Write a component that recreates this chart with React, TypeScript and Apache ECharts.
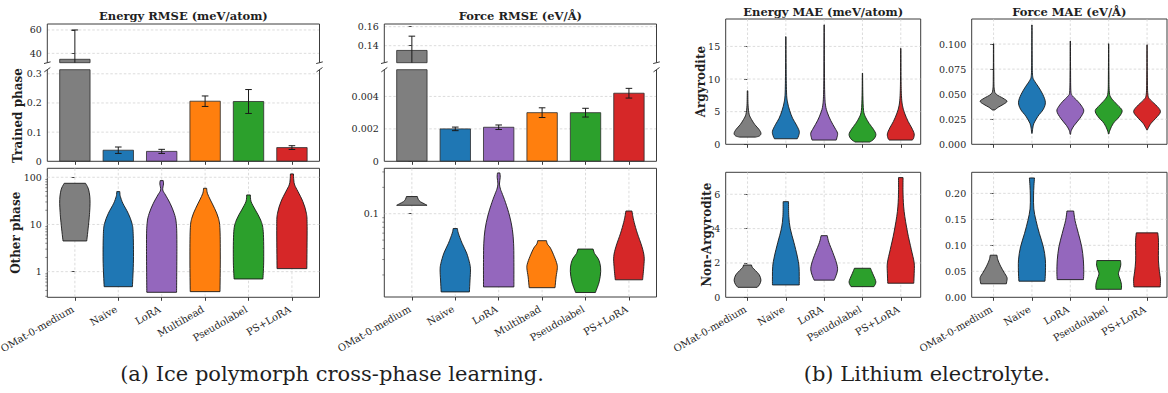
import React, { useEffect, useRef } from 'react';
import * as echarts from 'echarts';

const SERIF = 'DejaVu Serif';
const INK = '#1f1f1f';
const SPINE = '#3c3c3c';
const EDGE = '#2b2b2b';
const VIOLIN_EDGE = '#1a1a1a';
const GRID_LINE = '#cdcdcd';
const TICK_SIZE = 9.5;
const XTICK_SIZE = 10;

// ---- categories & colours ----
const methodsA = ['OMat-0-medium', 'Naive', 'LoRA', 'Multihead', 'Pseudolabel', 'PS+LoRA'];
const methodsB = ['OMat-0-medium', 'Naive', 'LoRA', 'Pseudolabel', 'PS+LoRA'];
const colorsA = ['#7f7f7f', '#1f77b4', '#9467bd', '#ff7f0e', '#2ca02c', '#d62728'];
const colorsB = ['#7f7f7f', '#1f77b4', '#9467bd', '#2ca02c', '#d62728'];

// ---- (a) trained phase: mean ± std ----
const energyRmseMean = [34.9, 0.038, 0.034, 0.206, 0.205, 0.047];
const energyRmseStd = [25.1, 0.011, 0.007, 0.018, 0.041, 0.0065];
const forceRmseMean = [0.135, 0.002, 0.0021, 0.003, 0.003, 0.0042];
const forceRmseStd = [0.015, 0.00011, 0.00014, 0.0003, 0.00027, 0.0003];

// ---- violin outlines: [value, relative half-width], top to bottom ----
// (a) other phase, energy RMSE (meV/atom)
const energyOtherPhase: number[][][] = [
  [[74.6, 0.7], [64, 0.82], [53.8, 0.91], [40, 0.98], [28.1, 1.0], [18, 0.97], [12.4, 0.93], [7, 0.85], [4.47, 0.78]],
  [[49.7, 0.1], [44, 0.11], [38.9, 0.14], [28.1, 0.3], [17.3, 0.65], [10.6, 0.9], [6.5, 0.98], [1.77, 1.0], [0.48, 0.93]],
  [[85, 0.1], [72.3, 0.12], [53.9, 0.07], [42.2, 0.25], [28.1, 0.55], [17.3, 0.82], [10.6, 0.96], [3.99, 1.0], [0.365, 0.98]],
  [[58.5, 0.1], [45.8, 0.15], [33.0, 0.35], [22.0, 0.62], [13.5, 0.88], [7.6, 0.98], [1.77, 1.0], [0.377, 0.98]],
  [[42.2, 0.12], [30.5, 0.17], [20.3, 0.45], [12.4, 0.8], [7.05, 0.97], [1.77, 1.0], [0.7, 0.95]],
  [[117.7, 0.1], [87.8, 0.12], [68.7, 0.18], [49.7, 0.4], [30.5, 0.72], [17.3, 0.95], [9.0, 1.0], [1.16, 0.98]],
];
// (a) other phase, force RMSE (eV/Å)
const forceOtherPhase: number[][][] = [
  [[0.157, 0.36], [0.146, 0.42], [0.1374, 0.55], [0.1303, 0.8], [0.1248, 1.0]],
  [[0.0677, 0.14], [0.06, 0.2], [0.046, 0.45], [0.0355, 0.75], [0.027, 0.95], [0.0228, 1.0], [0.0175, 0.97], [0.0128, 0.93]],
  [[0.292, 0.08], [0.26, 0.1], [0.218, 0.05], [0.19, 0.12], [0.175, 0.2], [0.134, 0.45], [0.094, 0.72], [0.066, 0.9], [0.046, 0.98], [0.03, 1.0], [0.0146, 1.0]],
  [[0.0492, 0.29], [0.045, 0.35], [0.0405, 0.55], [0.0325, 0.8], [0.0265, 0.98], [0.0235, 1.0], [0.019, 0.92], [0.0143, 0.85]],
  [[0.0395, 0.5], [0.035, 0.6], [0.031, 0.82], [0.027, 0.95], [0.022, 1.0], [0.0167, 0.9], [0.0126, 0.65]],
  [[0.1074, 0.2], [0.095, 0.25], [0.079, 0.35], [0.06, 0.55], [0.0424, 0.85], [0.0325, 1.0], [0.025, 0.98], [0.0176, 0.9]],
];
// (b) Argyrodite, energy MAE (meV/atom)
const energyArgyrodite: number[][][] = [
  [[8.2, 0.02], [6.0, 0.04], [4.6, 0.12], [3.8, 0.3], [3.0, 0.55], [2.3, 0.85], [1.7, 1.0], [1.3, 0.9], [1.1, 0.6]],
  [[16.5, 0.01], [12, 0.02], [8, 0.05], [6.5, 0.12], [5.2, 0.28], [4.0, 0.5], [3.0, 0.78], [2.0, 1.0], [1.3, 0.95], [0.85, 0.85]],
  [[18.3, 0.01], [12, 0.02], [8, 0.04], [6, 0.1], [4.8, 0.25], [3.6, 0.5], [2.5, 0.8], [1.7, 1.0], [1.0, 0.95], [0.65, 0.9]],
  [[10.9, 0.01], [7.5, 0.03], [5.2, 0.08], [4.2, 0.22], [3.2, 0.5], [2.3, 0.82], [1.5, 1.0], [0.8, 0.85], [0.35, 0.55]],
  [[14.7, 0.01], [10, 0.02], [7.5, 0.05], [6.0, 0.12], [4.8, 0.28], [3.5, 0.55], [2.5, 0.82], [1.6, 1.0], [0.9, 0.95], [0.65, 0.85]],
];
// (b) Argyrodite, force MAE (eV/Å)
const forceArgyrodite: number[][][] = [
  [[0.1003, 0.01], [0.07, 0.02], [0.055, 0.05], [0.05, 0.2], [0.046, 0.7], [0.043, 1.0], [0.04, 0.75], [0.037, 0.35], [0.0343, 0.1]],
  [[0.119, 0.01], [0.09, 0.015], [0.07, 0.04], [0.064, 0.15], [0.058, 0.45], [0.05, 0.8], [0.042, 1.0], [0.035, 0.85], [0.028, 0.45], [0.021, 0.15], [0.016, 0.06], [0.011, 0.02]],
  [[0.103, 0.01], [0.07, 0.02], [0.052, 0.05], [0.048, 0.18], [0.043, 0.55], [0.038, 0.85], [0.033, 1.0], [0.026, 0.72], [0.019, 0.3], [0.014, 0.08], [0.01, 0.02]],
  [[0.1003, 0.01], [0.07, 0.02], [0.052, 0.05], [0.046, 0.2], [0.0393, 0.65], [0.0337, 1.0], [0.0277, 0.8], [0.021, 0.35], [0.0143, 0.1], [0.0103, 0.02]],
  [[0.0993, 0.01], [0.07, 0.02], [0.05, 0.06], [0.0443, 0.25], [0.0393, 0.65], [0.0327, 1.0], [0.026, 0.65], [0.021, 0.3], [0.016, 0.08], [0.0143, 0.03]],
];
// (b) Non-Argyrodite, energy MAE (meV/atom)
const energyNonArgyrodite: number[][][] = [
  [[1.88, 0.3], [1.75, 0.35], [1.55, 0.6], [1.3, 0.88], [1.0, 1.0], [0.75, 0.9], [0.58, 0.72]],
  [[5.57, 0.2], [4.7, 0.22], [4.0, 0.33], [3.2, 0.6], [2.4, 0.85], [1.8, 0.98], [1.2, 1.0], [0.72, 1.0]],
  [[3.59, 0.23], [3.2, 0.35], [2.6, 0.65], [2.0, 0.92], [1.6, 1.0], [1.25, 0.88], [1.0, 0.75]],
  [[1.69, 0.6], [1.4, 0.75], [1.1, 0.92], [0.9, 1.0], [0.75, 0.95], [0.62, 0.85]],
  [[6.97, 0.17], [6.0, 0.17], [5.0, 0.25], [3.8, 0.5], [2.8, 0.78], [2.0, 1.0], [1.4, 1.0], [0.82, 0.97]],
];
// (b) Non-Argyrodite, force MAE (eV/Å)
const forceNonArgyrodite: number[][][] = [
  [[0.081, 0.25], [0.072, 0.32], [0.06, 0.52], [0.048, 0.78], [0.038, 1.0], [0.03, 0.98], [0.026, 0.95]],
  [[0.2296, 0.19], [0.215, 0.15], [0.195, 0.12], [0.17, 0.14], [0.148, 0.3], [0.123, 0.55], [0.097, 0.85], [0.072, 1.0], [0.045, 1.0], [0.031, 0.97]],
  [[0.166, 0.25], [0.148, 0.35], [0.123, 0.6], [0.097, 0.85], [0.072, 0.97], [0.049, 1.0], [0.034, 0.98]],
  [[0.0707, 0.88], [0.062, 0.9], [0.052, 0.8], [0.045, 0.72], [0.035, 0.85], [0.025, 0.95], [0.0154, 0.95]],
  [[0.124, 0.8], [0.11, 0.85], [0.09, 0.85], [0.07, 0.85], [0.05, 0.92], [0.035, 1.0], [0.02, 0.98]],
];

// ---- tick values ----
const energyTopTicks = [40, 60];
const energyBarTicks = [0, 0.1, 0.2, 0.3];
const energyLogTicks = [1, 10, 100];
const energyLogMinor = [0.3, 0.4, 0.5, 0.6, 0.7, 0.8, 0.9, 2, 3, 4, 5, 6, 7, 8, 9, 20, 30, 40, 50, 60, 70, 80, 90];
const forceTopTicks = [0.14, 0.16];
const forceBarTicks = [0, 0.002, 0.004];
const forceLogTicks = [0.1];
const forceLogMinor = [0.02, 0.03, 0.04, 0.05, 0.06, 0.07, 0.08, 0.09, 0.2, 0.3];
const energyArgTicks = [0, 5, 10, 15];
const forceArgTicks = [0, 0.025, 0.05, 0.075, 0.1];
const energyNonTicks = [0, 2, 4, 6];
const forceNonTicks = [0, 0.05, 0.1, 0.15, 0.2];

// ---- layout (pixels) ----
const GRID_BOXES = [
  { left: 47.3, top: 24, width: 272.2, height: 38.7 },
  { left: 47.3, top: 69.7, width: 272.2, height: 91.6 },
  { left: 47.3, top: 168.3, width: 272.2, height: 129 },
  { left: 384.3, top: 24, width: 272.2, height: 38.7 },
  { left: 384.3, top: 69.7, width: 272.2, height: 91.6 },
  { left: 384.3, top: 168.3, width: 272.2, height: 128.7 },
  { left: 725.7, top: 19, width: 195, height: 125.3 },
  { left: 971.7, top: 19, width: 195.3, height: 125.3 },
  { left: 725.7, top: 172.3, width: 195, height: 125 },
  { left: 971.7, top: 172.3, width: 195.3, height: 125 },
];
const FRAMED = [false, false, true, false, false, true, true, true, true, true];

const X_RANGE_A: [number, number] = [-0.635, 5.635];
const X_RANGE_B: [number, number] = [-0.57, 4.52];
const VIOLIN_HALF = 0.35;
const BAR_HALF = 0.35;
const CAP = 3.3;

const plain = (v: number) => String(+v.toPrecision(6));
const fixed = (d: number) => (v: number) => v.toFixed(d);

function xAxisFor(gridIndex: number, names: string[], range: [number, number], ticks: boolean) {
  const idx = names.map((_, i) => i);
  return {
    type: 'value', gridIndex, min: range[0], max: range[1],
    axisLine: { show: false }, splitLine: { show: false }, axisLabel: { show: false },
    axisTick: { show: ticks, customValues: idx, length: 3.5, lineStyle: { color: SPINE, width: 1 } },
  };
}

function yAxisFor(gridIndex: number, type: 'value' | 'log', min: number, max: number, ticks: number[], fmt: (v: number) => string) {
  return {
    type, gridIndex, min, max, logBase: 10,
    axisLine: { show: false }, splitLine: { show: false }, minorTick: { show: false },
    axisTick: { show: true, customValues: ticks, length: 3.5, lineStyle: { color: SPINE, width: 1 } },
    axisLabel: { customValues: ticks, formatter: fmt, fontFamily: SERIF, fontSize: TICK_SIZE, color: INK, margin: 5.5, hideOverlap: false },
  };
}

// category names under the x axis, rotated 30° and right-aligned on their tick
function xLabelSeries(gridIndex: number, names: string[], yRef: number) {
  return {
    type: 'custom', xAxisIndex: gridIndex, yAxisIndex: gridIndex, z: 5, silent: true,
    data: names.map((_, i) => [i, yRef]),
    renderItem: (params: any, api: any) => {
      const cs = params.coordSys;
      const i = api.value(0);
      const x = api.coord([i, yRef])[0];
      return {
        type: 'text', x: x - 2, y: cs.y + cs.height + 11, rotation: Math.PI / 6,
        style: {
          text: names[i], fill: INK, fontFamily: SERIF, fontSize: XTICK_SIZE,
          align: 'right', verticalAlign: 'middle',
        },
      };
    },
  };
}

function hGridSeries(gridIndex: number, values: number[]) {
  return {
    type: 'custom', xAxisIndex: gridIndex, yAxisIndex: gridIndex, z: 1, silent: true,
    data: values.map((v) => [0, v]),
    renderItem: (params: any, api: any) => {
      const cs = params.coordSys;
      const y = api.coord([0, api.value(1)])[1];
      return {
        type: 'line', shape: { x1: cs.x, y1: y, x2: cs.x + cs.width, y2: y },
        style: { stroke: GRID_LINE, lineWidth: 0.7, lineDash: [2.5, 2] },
      };
    },
  };
}

function vGridSeries(gridIndex: number, count: number, yRef: number) {
  const xs = Array.from({ length: count }, (_, i) => [i, yRef]);
  return {
    type: 'custom', xAxisIndex: gridIndex, yAxisIndex: gridIndex, z: 1, silent: true,
    data: xs,
    renderItem: (params: any, api: any) => {
      const cs = params.coordSys;
      const x = api.coord([api.value(0), yRef])[0];
      return {
        type: 'line', shape: { x1: x, y1: cs.y, x2: x, y2: cs.y + cs.height },
        style: { stroke: GRID_LINE, lineWidth: 0.7, lineDash: [2.5, 2] },
      };
    },
  };
}

function minorTickSeries(gridIndex: number, values: number[]) {
  return {
    type: 'custom', xAxisIndex: gridIndex, yAxisIndex: gridIndex, z: 4, silent: true,
    data: values.map((v) => [0, v]),
    renderItem: (params: any, api: any) => {
      const cs = params.coordSys;
      const y = api.coord([0, api.value(1)])[1];
      if (y < cs.y - 0.5 || y > cs.y + cs.height + 0.5) return null;
      return {
        type: 'line', shape: { x1: cs.x - 2, y1: y, x2: cs.x, y2: y },
        style: { stroke: SPINE, lineWidth: 0.6 },
      };
    },
  };
}

function barSeries(gridIndex: number, means: number[], stds: number[], colors: string[]) {
  return {
    type: 'custom', xAxisIndex: gridIndex, yAxisIndex: gridIndex, z: 3, silent: true,
    data: means.map((m, i) => [i, m, stds[i]]),
    renderItem: (params: any, api: any) => {
      const cs = params.coordSys;
      const lo = cs.y;
      const hi = cs.y + cs.height;
      const clampY = (y: number) => Math.min(hi, Math.max(lo, y));
      const i = api.value(0);
      const m = api.value(1);
      const s = api.value(2);
      const pTop = api.coord([i - BAR_HALF, m]);
      const pBase = api.coord([i + BAR_HALF, 0]);
      const top = clampY(pTop[1]);
      const base = clampY(pBase[1]);
      const children: any[] = [];
      if (base - top > 0.05) {
        children.push({
          type: 'rect', shape: { x: pTop[0], y: top, width: pBase[0] - pTop[0], height: base - top },
          style: { fill: colors[i], stroke: EDGE, lineWidth: 0.8 },
        });
      }
      const cx = api.coord([i, m])[0];
      const yUp = api.coord([i, m + s])[1];
      const yDn = api.coord([i, m - s])[1];
      const a = clampY(yUp);
      const b = clampY(yDn);
      if (b - a > 0.05) {
        children.push({ type: 'line', shape: { x1: cx, y1: a, x2: cx, y2: b }, style: { stroke: '#1a1a1a', lineWidth: 1 } });
      }
      if (yUp >= lo && yUp <= hi) {
        children.push({ type: 'line', shape: { x1: cx - CAP, y1: yUp, x2: cx + CAP, y2: yUp }, style: { stroke: '#1a1a1a', lineWidth: 1 } });
      }
      if (yDn >= lo && yDn <= hi) {
        children.push({ type: 'line', shape: { x1: cx - CAP, y1: yDn, x2: cx + CAP, y2: yDn }, style: { stroke: '#1a1a1a', lineWidth: 1 } });
      }
      return { type: 'group', children };
    },
  };
}

// Catmull-Rom spline through outline points, written as cubic Bézier segments
function curveThrough(pts: number[][]) {
  let d = '';
  for (let k = 0; k < pts.length - 1; k++) {
    const p0 = pts[k - 1] || pts[k];
    const p1 = pts[k];
    const p2 = pts[k + 1];
    const p3 = pts[k + 2] || p2;
    const c1x = p1[0] + (p2[0] - p0[0]) / 6;
    const c1y = p1[1] + (p2[1] - p0[1]) / 6;
    const c2x = p2[0] - (p3[0] - p1[0]) / 6;
    const c2y = p2[1] - (p3[1] - p1[1]) / 6;
    d += ` C${c1x.toFixed(2)},${c1y.toFixed(2)} ${c2x.toFixed(2)},${c2y.toFixed(2)} ${p2[0].toFixed(2)},${p2[1].toFixed(2)}`;
  }
  return d;
}

function violinSeries(gridIndex: number, profiles: number[][][], colors: string[]) {
  return {
    type: 'custom', xAxisIndex: gridIndex, yAxisIndex: gridIndex, z: 3, silent: true,
    data: profiles.map((p, i) => [i, p[0][0]]),
    renderItem: (params: any, api: any) => {
      const i = api.value(0);
      const prof = profiles[i];
      const right = prof.map(([v, w]) => api.coord([i + VIOLIN_HALF * w, v]));
      const left = prof.slice().reverse().map(([v, w]) => api.coord([i - VIOLIN_HALF * w, v]));
      const pathData =
        `M${right[0][0].toFixed(2)},${right[0][1].toFixed(2)}` + curveThrough(right) +
        ` L${left[0][0].toFixed(2)},${left[0][1].toFixed(2)}` + curveThrough(left) + ' Z';
      return {
        type: 'path', shape: { pathData },
        style: { fill: colors[i], stroke: VIOLIN_EDGE, lineWidth: 0.9 },
      };
    },
  };
}

function seg(x1: number, y1: number, x2: number, y2: number, w = 1) {
  return { type: 'line', silent: true, z: 10, shape: { x1, y1, x2, y2 }, style: { stroke: SPINE, lineWidth: w } };
}

function label(text: string, x: number, y: number, size: number, bold: boolean, rotate = 0) {
  return {
    type: 'text', silent: true, z: 10, x, y, rotation: rotate,
    style: {
      text, fill: INK, fontFamily: SERIF, fontSize: size, fontWeight: bold ? 'bold' : 'normal',
      align: 'center', verticalAlign: 'middle',
    },
  };
}

function brokenFrame(top: any, bottom: any) {
  const L = top.left;
  const R = top.left + top.width;
  const t0 = top.top;
  const t1 = top.top + top.height;
  const b0 = bottom.top;
  const b1 = bottom.top + bottom.height;
  return [
    seg(L, t0, R, t0), seg(L, t0, L, t1), seg(R, t0, R, t1),
    seg(L, b0, L, b1), seg(R, b0, R, b1), seg(L, b1, R, b1),
    seg(L - 3.3, t1 + 0.85, L + 3.3, t1 - 0.85), seg(R - 3.3, t1 + 0.85, R + 3.3, t1 - 0.85),
    seg(L - 3, b0 + 2.2, L + 3, b0 - 2.2), seg(R - 3, b0 + 2.2, R + 3, b0 - 2.2),
  ];
}

function buildOption() {
  const G = GRID_BOXES;
  const grid = G.map((b, i) => ({
    left: b.left, top: b.top, width: b.width, height: b.height,
    show: FRAMED[i], borderColor: SPINE, borderWidth: 1, backgroundColor: 'rgba(0,0,0,0)',
    containLabel: false, outerBoundsMode: 'none',
  }));

  const xAxis = [
    xAxisFor(0, methodsA, X_RANGE_A, false),
    xAxisFor(1, methodsA, X_RANGE_A, true),
    xAxisFor(2, methodsA, X_RANGE_A, true),
    xAxisFor(3, methodsA, X_RANGE_A, false),
    xAxisFor(4, methodsA, X_RANGE_A, true),
    xAxisFor(5, methodsA, X_RANGE_A, true),
    xAxisFor(6, methodsB, X_RANGE_B, true),
    xAxisFor(7, methodsB, X_RANGE_B, true),
    xAxisFor(8, methodsB, X_RANGE_B, true),
    xAxisFor(9, methodsB, X_RANGE_B, true),
  ];

  const yAxis = [
    yAxisFor(0, 'value', 32, 65.1, energyTopTicks, plain),
    yAxisFor(1, 'value', 0, 0.314, energyBarTicks, plain),
    yAxisFor(2, 'log', 0.286, 155, energyLogTicks, plain),
    yAxisFor(3, 'value', 0.1221, 0.1628, forceTopTicks, plain),
    yAxisFor(4, 'value', 0, 0.00565, forceBarTicks, plain),
    yAxisFor(5, 'log', 0.0112, 0.33, forceLogTicks, plain),
    yAxisFor(6, 'value', 0, 19.2, energyArgTicks, plain),
    yAxisFor(7, 'value', 0, 0.125, forceArgTicks, fixed(3)),
    yAxisFor(8, 'value', 0, 7.28, energyNonTicks, plain),
    yAxisFor(9, 'value', 0, 0.2405, forceNonTicks, fixed(2)),
  ];

  const series: any[] = [
    hGridSeries(0, energyTopTicks),
    hGridSeries(1, energyBarTicks.filter((v) => v > 0)),
    hGridSeries(2, energyLogTicks),
    hGridSeries(3, forceTopTicks),
    hGridSeries(4, forceBarTicks.filter((v) => v > 0)),
    hGridSeries(5, forceLogTicks),
    hGridSeries(6, energyArgTicks.filter((v) => v > 0)),
    hGridSeries(7, forceArgTicks.filter((v) => v > 0)),
    hGridSeries(8, energyNonTicks.filter((v) => v > 0)),
    hGridSeries(9, forceNonTicks.filter((v) => v > 0)),
    vGridSeries(2, methodsA.length, 1),
    vGridSeries(5, methodsA.length, 0.1),
    vGridSeries(6, methodsB.length, 1),
    vGridSeries(7, methodsB.length, 0.05),
    vGridSeries(8, methodsB.length, 1),
    vGridSeries(9, methodsB.length, 0.05),
    barSeries(0, energyRmseMean, energyRmseStd, colorsA),
    barSeries(1, energyRmseMean, energyRmseStd, colorsA),
    barSeries(3, forceRmseMean, forceRmseStd, colorsA),
    barSeries(4, forceRmseMean, forceRmseStd, colorsA),
    violinSeries(2, energyOtherPhase, colorsA),
    violinSeries(5, forceOtherPhase, colorsA),
    violinSeries(6, energyArgyrodite, colorsB),
    violinSeries(7, forceArgyrodite, colorsB),
    violinSeries(8, energyNonArgyrodite, colorsB),
    violinSeries(9, forceNonArgyrodite, colorsB),
    minorTickSeries(2, energyLogMinor),
    minorTickSeries(5, forceLogMinor),
    xLabelSeries(2, methodsA, 1),
    xLabelSeries(5, methodsA, 0.1),
    xLabelSeries(8, methodsB, 1),
    xLabelSeries(9, methodsB, 0.05),
  ];

  const cxOf = (b: any) => b.left + b.width / 2;
  const cyOf = (b: any) => b.top + b.height / 2;
  const graphic: any[] = [
    ...brokenFrame(G[0], G[1]),
    ...brokenFrame(G[3], G[4]),
    label('Energy RMSE (meV/atom)', cxOf(G[0]), 16, 11.5, true),
    label('Force RMSE (eV/Å)', cxOf(G[3]), 16, 11.5, true),
    label('Energy MAE (meV/atom)', cxOf(G[6]), 12, 11.5, true),
    label('Force MAE (eV/Å)', cxOf(G[7]), 12, 11.5, true),
    label('Trained phase', 18.3, cyOf(G[1]), 12, true, Math.PI / 2),
    label('Other phase', 15.7, cyOf(G[2]), 12, true, Math.PI / 2),
    label('Argyrodite', 700.7, cyOf(G[6]), 12, true, Math.PI / 2),
    label('Non-Argyrodite', 706.7, cyOf(G[8]), 12, true, Math.PI / 2),
    label('(a) Ice polymorph cross-phase learning.', 332, 374, 21, false),
    label('(b) Lithium electrolyte.', 927, 374, 21, false),
  ];

  return { animation: false, backgroundColor: '#ffffff', grid, xAxis, yAxis, series, graphic };
}

export default function App() {
  const ref = useRef<HTMLDivElement>(null);
  useEffect(() => {
    if (!ref.current) return;
    const chart = echarts.init(ref.current, undefined, { renderer: 'svg' });
    chart.setOption(buildOption() as any);
    return () => chart.dispose();
  }, []);
  return (
    <div
      ref={ref}
      style={{ position: 'fixed', left: 0, top: 0, width: 1168, height: 393, background: '#ffffff' }}
    />
  );
}
